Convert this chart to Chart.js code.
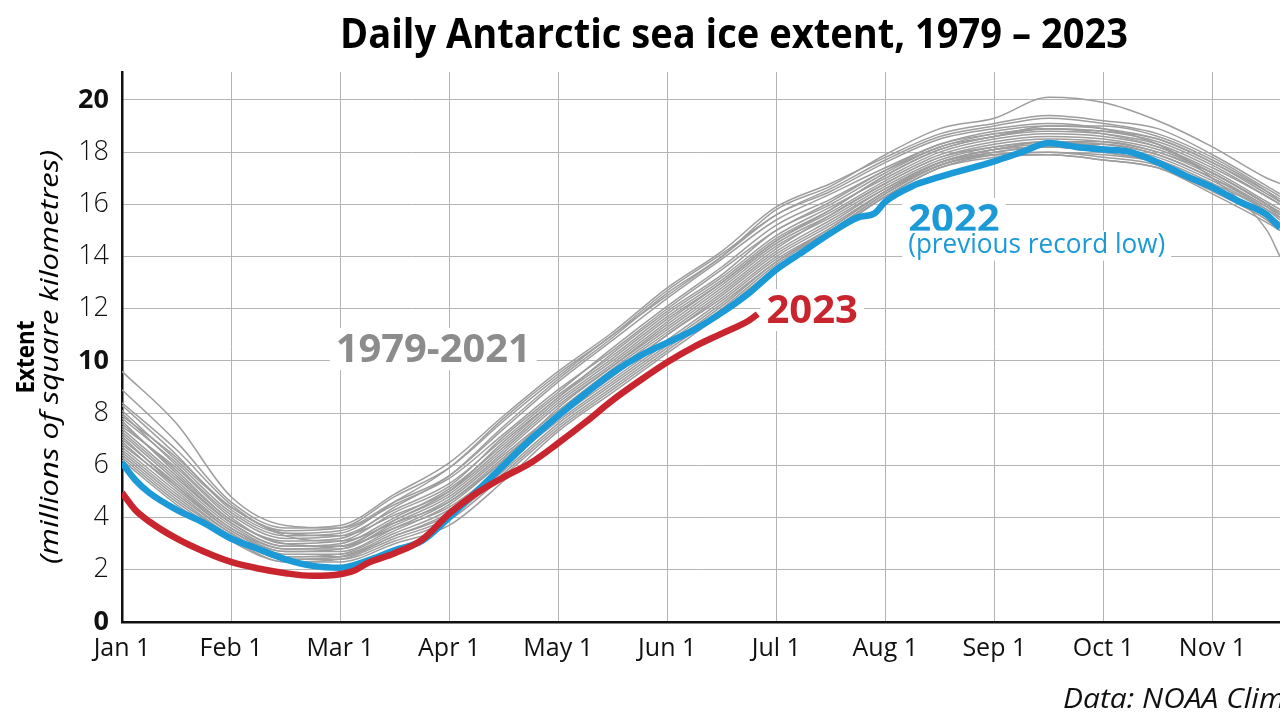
<!DOCTYPE html>
<html>
<head>
<meta charset="utf-8">
<script src="https://cdn.jsdelivr.net/npm/chart.js@4.4.1/dist/chart.umd.min.js"></script>
<style>
  body { margin: 0; background: #fff; }
  #wrap { width: 1280px; height: 720px; }
</style>
</head>
<body>
<div id="wrap"><canvas id="iceChart"></canvas></div>
<script>
// x values are months since Jan 1 (gridlines are one per month)
const monthTicks = [0, 1, 2, 3, 4, 5, 6, 7, 8, 9, 10];
const monthLabels = ['Jan 1', 'Feb 1', 'Mar 1', 'Apr 1', 'May 1', 'Jun 1', 'Jul 1', 'Aug 1', 'Sep 1', 'Oct 1', 'Nov 1'];
const yTicks = [0, 2, 4, 6, 8, 10, 12, 14, 16, 18, 20];

// 1979-2021 (sample of the grey spaghetti), read every half month
const grayDays = [0, 0.5, 1, 1.5, 2, 2.5, 3, 3.5, 4, 4.5, 5, 5.5, 6, 6.5, 7, 7.5, 8, 8.5, 9, 9.5, 10, 10.5, 10.62];
const grayLines = [
    [9.6, 7.6, 4.8, 3.7, 3.6, 4.6, 5.6, 7.4, 9.2, 10.8, 12.4, 13.9, 15.4, 16.4, 17.4, 18.3, 18.8, 19.0, 18.9, 18.5, 17.6, 16.5, 16.2],
    [8.9, 6.9, 4.6, 3.6, 3.7, 4.9, 6.1, 7.9, 9.6, 11.1, 12.8, 14.2, 15.9, 16.8, 17.8, 18.7, 19.1, 19.4, 19.2, 18.9, 17.9, 16.7, 16.4],
    [8.3, 6.4, 4.3, 3.4, 3.5, 4.5, 5.5, 7.2, 8.9, 10.4, 12.0, 13.5, 15.0, 16.1, 17.3, 18.3, 18.7, 18.9, 18.8, 18.4, 17.5, 16.3, 16.0],
    [8.0, 6.0, 4.1, 3.2, 3.3, 4.3, 5.3, 7.0, 8.7, 10.2, 11.8, 13.2, 14.8, 15.9, 17.0, 18.0, 18.5, 18.7, 18.6, 18.2, 17.3, 16.1, 15.8],
    [7.6, 5.8, 3.9, 3.1, 3.2, 4.4, 5.6, 7.5, 9.3, 10.9, 12.6, 14.0, 15.8, 16.7, 17.9, 18.9, 19.3, 20.1, 19.9, 19.2, 18.2, 17.0, 16.8],
    [7.4, 5.6, 3.8, 2.9, 2.9, 3.9, 4.9, 6.6, 8.4, 9.9, 11.5, 13.0, 14.6, 15.7, 16.9, 17.9, 18.4, 18.6, 18.5, 18.1, 17.2, 16.0, 15.7],
    [7.2, 5.4, 3.7, 2.8, 2.8, 3.8, 4.8, 6.5, 8.3, 9.8, 11.3, 12.8, 14.4, 15.5, 16.7, 17.7, 18.2, 18.4, 18.2, 17.8, 16.9, 15.8, 15.5],
    [7.0, 5.3, 3.6, 2.7, 2.7, 3.6, 4.6, 6.3, 8.0, 9.6, 11.1, 12.6, 14.2, 15.4, 16.6, 17.6, 18.0, 18.2, 18.1, 17.7, 16.8, 15.7, 15.2],
    [6.9, 5.1, 3.5, 2.6, 2.6, 3.4, 4.3, 5.9, 7.8, 9.3, 10.8, 12.3, 13.9, 15.1, 16.5, 17.6, 18.1, 18.3, 18.3, 17.9, 17.0, 15.9, 15.5],
    [6.7, 5.0, 3.4, 2.5, 2.5, 3.3, 4.1, 5.8, 7.6, 9.1, 10.6, 12.1, 13.8, 15.0, 16.4, 17.5, 17.9, 18.0, 17.8, 17.5, 16.6, 15.5, 15.1],
    [6.5, 4.8, 3.3, 2.4, 2.4, 3.1, 3.9, 5.6, 7.4, 8.9, 10.4, 11.9, 13.6, 14.9, 16.3, 17.4, 17.8, 17.9, 17.7, 17.4, 16.5, 15.4, 15.0],
    [6.3, 4.6, 3.2, 2.3, 2.3, 3.0, 3.7, 5.4, 7.3, 8.8, 10.3, 11.8, 13.5, 14.9, 16.3, 17.4, 17.9, 18.0, 17.9, 17.6, 16.7, 15.6, 15.3],
    [7.8, 6.1, 4.2, 3.3, 3.4, 4.6, 5.9, 7.8, 9.5, 11.0, 12.7, 14.1, 15.6, 16.5, 17.6, 18.5, 18.9, 19.1, 18.9, 18.3, 17.0, 15.0, 14.0],
    [8.1, 6.2, 4.4, 3.5, 3.6, 4.8, 5.9, 7.7, 9.4, 11.0, 12.5, 14.0, 15.6, 16.6, 17.7, 18.6, 19.0, 19.3, 19.1, 18.7, 17.8, 16.6, 16.3],
    [7.3, 5.5, 3.8, 2.9, 3.0, 4.0, 5.1, 6.8, 8.6, 10.1, 11.7, 13.1, 14.7, 15.8, 17.1, 18.1, 18.6, 18.8, 18.7, 18.3, 17.4, 16.3, 16.0],
    [6.2, 4.5, 3.1, 2.3, 2.4, 3.2, 4.0, 5.7, 7.5, 9.0, 10.5, 12.0, 13.7, 15.0, 16.4, 17.5, 17.9, 17.9, 17.7, 17.4, 16.4, 15.3, 15.0],
    [7.5, 5.9, 4.0, 3.0, 3.1, 4.2, 5.2, 7.1, 8.8, 10.5, 12.1, 13.6, 15.2, 16.2, 17.3, 18.2, 18.7, 18.9, 18.8, 18.5, 17.6, 16.4, 16.1],
    [7.1, 5.2, 3.5, 2.7, 2.8, 3.7, 4.7, 6.4, 8.1, 9.7, 11.2, 12.7, 14.3, 15.6, 16.8, 17.8, 18.3, 18.5, 18.4, 18.0, 17.1, 15.9, 15.6],
    [6.8, 5.2, 3.6, 2.8, 2.9, 3.9, 5.0, 6.9, 8.6, 10.3, 11.9, 13.3, 15.0, 16.0, 17.2, 18.2, 18.6, 19.0, 19.0, 18.6, 17.7, 16.5, 16.1],
    [8.4, 6.6, 4.5, 3.3, 3.1, 3.8, 4.6, 6.2, 8.0, 9.5, 11.0, 12.5, 14.1, 15.3, 16.6, 17.6, 18.1, 18.4, 18.4, 18.0, 17.2, 16.0, 15.7],
    [7.7, 5.7, 3.9, 3.0, 2.9, 3.6, 4.4, 6.0, 7.9, 9.4, 11.0, 12.4, 14.0, 15.2, 16.5, 17.5, 18.0, 18.2, 18.0, 17.6, 16.6, 15.5, 15.2],
    [6.6, 4.9, 3.4, 2.5, 2.6, 3.5, 4.5, 6.2, 8.2, 9.8, 11.4, 12.9, 14.5, 15.6, 16.8, 17.8, 18.2, 18.4, 18.3, 17.9, 17.0, 15.8, 15.4],
    [7.9, 6.3, 4.4, 3.4, 3.3, 4.1, 5.0, 6.7, 8.5, 10.0, 11.6, 13.0, 14.6, 15.8, 17.1, 18.1, 18.6, 18.9, 18.7, 18.2, 17.2, 16.0, 15.6],
    [6.4, 4.7, 3.3, 2.4, 2.5, 3.3, 4.2, 6.0, 7.7, 9.2, 10.7, 12.2, 13.8, 15.1, 16.5, 17.6, 18.1, 18.2, 18.0, 17.6, 16.7, 15.6, 15.2]
];

// 2022 (previous record low)
const days2022 = [0, 0.12, 0.25, 0.5, 0.75, 1, 1.25, 1.5, 1.75, 2, 2.25, 2.5, 2.75, 3, 3.25, 3.5, 3.75, 4, 4.25, 4.5, 4.75, 5, 5.25, 5.5, 5.75, 6, 6.25, 6.5, 6.75, 6.9, 7, 7.25, 7.5, 7.75, 8, 8.25, 8.5, 8.75, 9, 9.25, 9.5, 9.75, 10, 10.25, 10.5, 10.62];
const extent2022 = [6.1, 5.45, 4.95, 4.3, 3.8, 3.2, 2.8, 2.4, 2.15, 2.08, 2.35, 2.75, 3.1, 4.0, 5.0, 6.0, 7.0, 7.9, 8.75, 9.55, 10.2, 10.7, 11.2, 11.85, 12.6, 13.5, 14.2, 14.9, 15.5, 15.65, 16.1, 16.7, 17.05, 17.35, 17.65, 18.0, 18.35, 18.2, 18.1, 18.0, 17.6, 17.1, 16.65, 16.1, 15.6, 15.1];

// 2023 (so far)
const days2023 = [0, 0.12, 0.25, 0.5, 0.75, 1, 1.25, 1.5, 1.75, 2, 2.12, 2.25, 2.5, 2.75, 3, 3.25, 3.5, 3.75, 4, 4.25, 4.5, 4.75, 5, 5.25, 5.5, 5.75, 5.83];
const extent2023 = [4.95, 4.3, 3.85, 3.2, 2.7, 2.3, 2.05, 1.87, 1.77, 1.83, 1.95, 2.25, 2.63, 3.15, 4.15, 4.93, 5.55, 6.1, 6.85, 7.65, 8.5, 9.25, 9.95, 10.55, 11.05, 11.55, 11.8];

const RED = '#c9252f';
const BLUE = '#1b9ad7';
const GREY_LINE = '#9d9d9d';

function toPoints(xs, ys) {
    return xs.map((x, i) => ({ x: x, y: ys[i] }));
}

// draws text squeezed horizontally to a target width (the original uses a condensed face)
function drawText(ctx, text, left, baseline, font, color, width, box) {
    ctx.save();
    ctx.font = font;
    const w = ctx.measureText(text).width;
    const s = width ? Math.min(1, width / w) : 1;
    if (box) {
        ctx.fillStyle = '#fff';
        ctx.fillRect(left - 6, baseline - box, w * s + 12, box + 8);
    }
    ctx.translate(left, baseline);
    ctx.scale(s, 1);
    ctx.fillStyle = color;
    ctx.textBaseline = 'alphabetic';
    ctx.fillText(text, 0, 0);
    ctx.restore();
}

const annotationPlugin = {
    id: 'annotations',
    afterDatasetsDraw(chart) {
        const { ctx, scales: { x, y } } = chart;
        drawText(ctx, '1979-2021', x.getPixelForValue(1.96), y.getPixelForValue(9.96),
            'bold 40px "Open Sans"', '#8c8c8c', 195, 34);
        drawText(ctx, '2023', x.getPixelForValue(5.91), y.getPixelForValue(11.45),
            'bold 40px "Open Sans"', RED, 92, 34);
        drawText(ctx, '2022', x.getPixelForValue(7.21), y.getPixelForValue(14.94),
            'bold 40px "Open Sans"', BLUE, 92, 34);
        drawText(ctx, '(previous record low)', x.getPixelForValue(7.21), y.getPixelForValue(14.15),
            '27px "Open Sans"', BLUE, 257, 22);
    },
    afterDraw(chart) {
        const ctx = chart.ctx;
        // title
        drawText(ctx, 'Daily Antarctic sea ice extent, 1979 – 2023', 340, 48,
            'bold 42px "Open Sans"', '#000', 788);

        // source line, cut off by the right edge like the original
        ctx.save();
        ctx.font = 'italic 27px "Open Sans"';
        const srcScale = 222 / ctx.measureText('Data: NOAA Clim').width;
        ctx.translate(1063, 708);
        ctx.scale(srcScale, 1);
        ctx.fillStyle = '#111';
        ctx.fillText('Data: NOAA Climate.gov', 0, 0);
        ctx.restore();

        // y axis title, two lines rotated
        ctx.save();
        ctx.translate(27, 357);
        ctx.rotate(-Math.PI / 2);
        ctx.textAlign = 'center';
        ctx.textBaseline = 'middle';
        ctx.fillStyle = '#000';
        ctx.font = 'bold 25px "Open Sans"';
        ctx.save();
        ctx.scale(0.9, 1);
        ctx.fillText('Extent', 0, 0);
        ctx.restore();
        ctx.font = 'italic 25px "Open Sans"';
        const sub = '(millions of square kilometres)';
        const sw = ctx.measureText(sub).width;
        ctx.save();
        ctx.translate(0, 24);
        ctx.scale(414 / sw, 1);
        ctx.fillText(sub, 0, 0);
        ctx.restore();
        ctx.restore();
    }
};

const datasets = [
    {
        label: '2023',
        data: toPoints(days2023, extent2023),
        borderColor: RED,
        borderWidth: 6.5,
        pointRadius: 0,
        cubicInterpolationMode: 'monotone',
        borderCapStyle: 'butt'
    },
    {
        label: '2022',
        data: toPoints(days2022, extent2022),
        borderColor: BLUE,
        borderWidth: 6.5,
        pointRadius: 0,
        cubicInterpolationMode: 'monotone'
    }
];

grayLines.forEach((vals, i) => {
    datasets.push({
        label: 'year ' + i,
        data: toPoints(grayDays, vals),
        borderColor: GREY_LINE,
        borderWidth: 1.5,
        pointRadius: 0,
        cubicInterpolationMode: 'monotone'
    });
});

const ctx = document.getElementById('iceChart').getContext('2d');
const iceChart = new Chart(ctx, {
    type: 'line',
    data: { datasets: datasets },
    options: {
        responsive: true,
        maintainAspectRatio: false,
        animation: false,
        layout: { padding: { top: 72, left: 0, right: 0, bottom: 0 } },
        plugins: {
            legend: { display: false },
            tooltip: { enabled: false },
            title: { display: false }
        },
        scales: {
            x: {
                type: 'linear',
                min: 0,
                max: 10.62,
                afterBuildTicks: function(scale) {
                    scale.ticks = monthTicks.map(v => ({ value: v }));
                },
                afterFit: function(scale) {
                    scale.height = 98;
                },
                ticks: {
                    autoSkip: false,
                    maxRotation: 0,
                    padding: 12,
                    color: '#111',
                    font: { family: 'Open Sans', size: 25, weight: 'normal' },
                    callback: function(value) {
                        return monthLabels[monthTicks.indexOf(value)];
                    }
                },
                grid: { color: '#b4b4b4', lineWidth: 1, drawTicks: false, tickLength: 0 },
                border: { color: '#111', width: 2.5 }
            },
            y: {
                min: 0,
                max: 21.07,
                afterBuildTicks: function(scale) {
                    scale.ticks = yTicks.map(v => ({ value: v }));
                },
                afterFit: function(scale) {
                    scale.width = 122;
                },
                ticks: {
                    padding: 13,
                    color: '#111',
                    font: function(c) {
                        const major = c.tick && c.tick.value % 10 === 0;
                        return { family: 'Open Sans', size: 27, weight: major ? 'bold' : '300' };
                    }
                },
                grid: { color: '#b4b4b4', lineWidth: 1, drawTicks: false, tickLength: 0 },
                border: { color: '#111', width: 2.5 }
            }
        }
    },
    plugins: [annotationPlugin]
});
</script>
</body>
</html>
